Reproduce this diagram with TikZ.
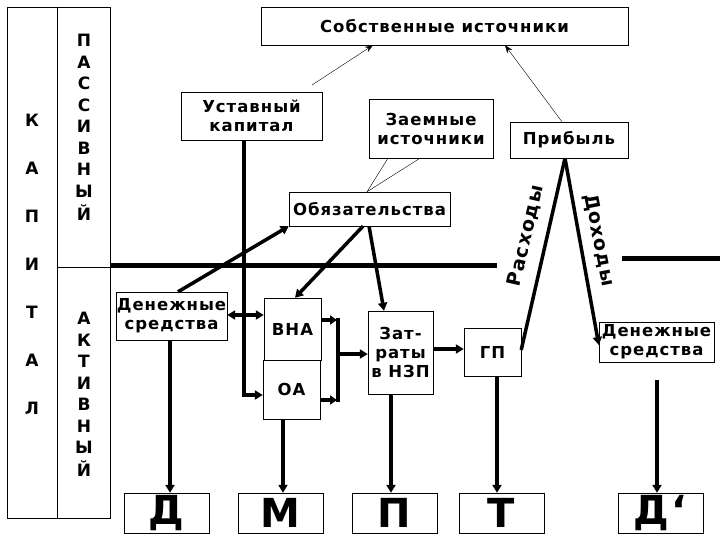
\documentclass[tikz,border=0pt]{standalone}
\usepackage{fontspec}
\setmainfont{DejaVu Sans}[LetterSpace=6]
\usetikzlibrary{arrows.meta}
\begin{document}
\begin{tikzpicture}[x=1pt,y=-1pt,
  box/.style={draw,thin,inner sep=0pt,align=center,font=\bfseries\fontsize{16.5}{19}\selectfont},
  big/.style={draw,thin,inner sep=0pt,minimum width=85pt,minimum height=40pt,font=\bfseries\fontsize{40}{40}\selectfont},
  let/.style={font=\bfseries\fontsize{17}{17}\selectfont,inner sep=0pt},
  thk/.style={line width=3.5pt,-{Triangle[length=8pt,width=9pt]}},
  thn/.style={thin,-{Stealth[length=8pt,width=6pt]}}]
\useasboundingbox (0,0) rectangle (720,540);
% left frame
\draw[thin] (7,7) rectangle (110,518);
\draw[thin] (57,7) -- (57,518);
\draw[thin] (57,267) -- (110,267);
\foreach \l [count=\i] in {К,А,П,И,Т,А,Л} \node[let] (k\i) at (32,72+48*\i) {\l};
\foreach \l [count=\i] in {П,А,С,С,И,В,Н,Ы,Й} \node[let] (p\i) at (84,19+21.5*\i) {\l};
\foreach \l [count=\i] in {А,К,Т,И,В,Н,Ы,Й} \node[let] (a\i) at (84,297+21.5*\i) {\l};
% boxes
\node[box,minimum width=367pt,minimum height=38pt] (sob) at (444.5,26) {Собственные источники};
\node[box,minimum width=141pt,minimum height=48pt] (ust) at (251.5,116) {Уставный\\капитал};
\node[box,minimum width=124pt,minimum height=59pt] (zaem) at (431,128.5) {Заемные\\источники};
\node[box,minimum width=118pt,minimum height=36pt] (prib) at (569,140) {Прибыль};
\node[box,minimum width=161pt,minimum height=34pt] (obz) at (369.5,209) {Обязательства};
\node[box,minimum width=111pt,minimum height=48pt] (ds1) at (171.5,316) {Денежные\\средства};
\node[box,minimum width=57pt,minimum height=62pt] (vna) at (292.5,329) {ВНА};
\node[box,minimum width=57pt,minimum height=59pt] (oa) at (291.5,389.5) {ОА};
\node[box,minimum width=65pt,minimum height=83pt] (nzp) at (400.5,352.5) {Зат-\\раты\\в НЗП};
\node[box,minimum width=57pt,minimum height=48pt] (gp) at (492.5,352) {ГП};
\node[box,minimum width=115pt,minimum height=40pt] (ds2) at (656.5,342) {Денежные\\средства};
\node[big] (D) at (166.5,513) {Д};
\node[big] (M) at (280.5,513) {М};
\node[big] (P) at (394.5,513) {П};
\node[big] (T) at (501.5,513) {Т};
\node[big] (D2) at (660.5,513) {Д\char"60};
% horizontal lines
\draw[line width=5pt] (110,265) -- (497,265);
\coordinate (hr1) at (622,258); \coordinate (hr2) at (720,258);
\draw[line width=5pt] (hr1) -- (hr2);
% thin arrows to Собственные
\draw[thn] (312,85) -- (sob.south -| 373,45);
\draw[thn] (prib.north -| 562,122) -- (sob.south -| 505,45);
% callout
\draw[thin] (zaem.south -| 388,158) -- (obz.north -| 367,192) -- (zaem.south -| 420,158);
% Уставный -> ОА
\draw[thk] (ust.south -| 244,140) |- (oa.west |- 0,395);
% ДС <-> ВНА
\draw[line width=3.5pt,{Triangle[length=8pt,width=9pt]}-{Triangle[length=8pt,width=9pt]}] (ds1.east |- 0,315) -- (vna.west |- 0,315);
% bracket
\draw[line width=3.5pt,-{Triangle[length=7pt,width=9pt]}] (vna.east |- 0,320) -- (337,320);
\draw[line width=3.5pt,-{Triangle[length=7pt,width=9pt]}] (oa.east |- 0,400) -- (337,400);
\draw[line width=3.5pt] (338,318) -- (338,402);
\draw[thk] (338,354) -- (nzp.west |- 0,354);
% Обязательства links
\draw[thk] (ds1.north -| 178,292) -- (obz.south west);
\draw[thk] (obz.south -| 363,226) -- (vna.north -| 295,298);
\draw[thk] (obz.south -| 369,226) -- (nzp.north -| 384,311);
\draw[thk] (nzp.east |- 0,349) -- (gp.west |- 0,349);
% Расходы / Доходы
\draw[line width=3.5pt] (gp.east |- 0,350) -- (prib.south -| 565,158);
\draw[thk] (prib.south -| 565,158) -- (ds2.west |- 600,345);
\node[font=\bfseries\fontsize{19}{19}\selectfont,rotate=77,inner sep=0pt] (rash) at (526,236) {Расходы};
\node[font=\bfseries\fontsize{19}{19}\selectfont,rotate=-79,inner sep=0pt] (doh) at (599,240) {Доходы};
% down arrows
\draw[thk] (ds1.south -| 170,340) -- (D.north -| 170,493);
\draw[thk] (oa.south -| 283,419) -- (M.north -| 283,493);
\draw[thk] (nzp.south -| 391,394) -- (P.north -| 391,493);
\draw[thk] (gp.south -| 497,376) -- (T.north -| 497,493);
\coordinate (d2s) at (657,380);
\draw[thk] (d2s) -- (D2.north -| 657,493);
\end{tikzpicture}
\end{document}
